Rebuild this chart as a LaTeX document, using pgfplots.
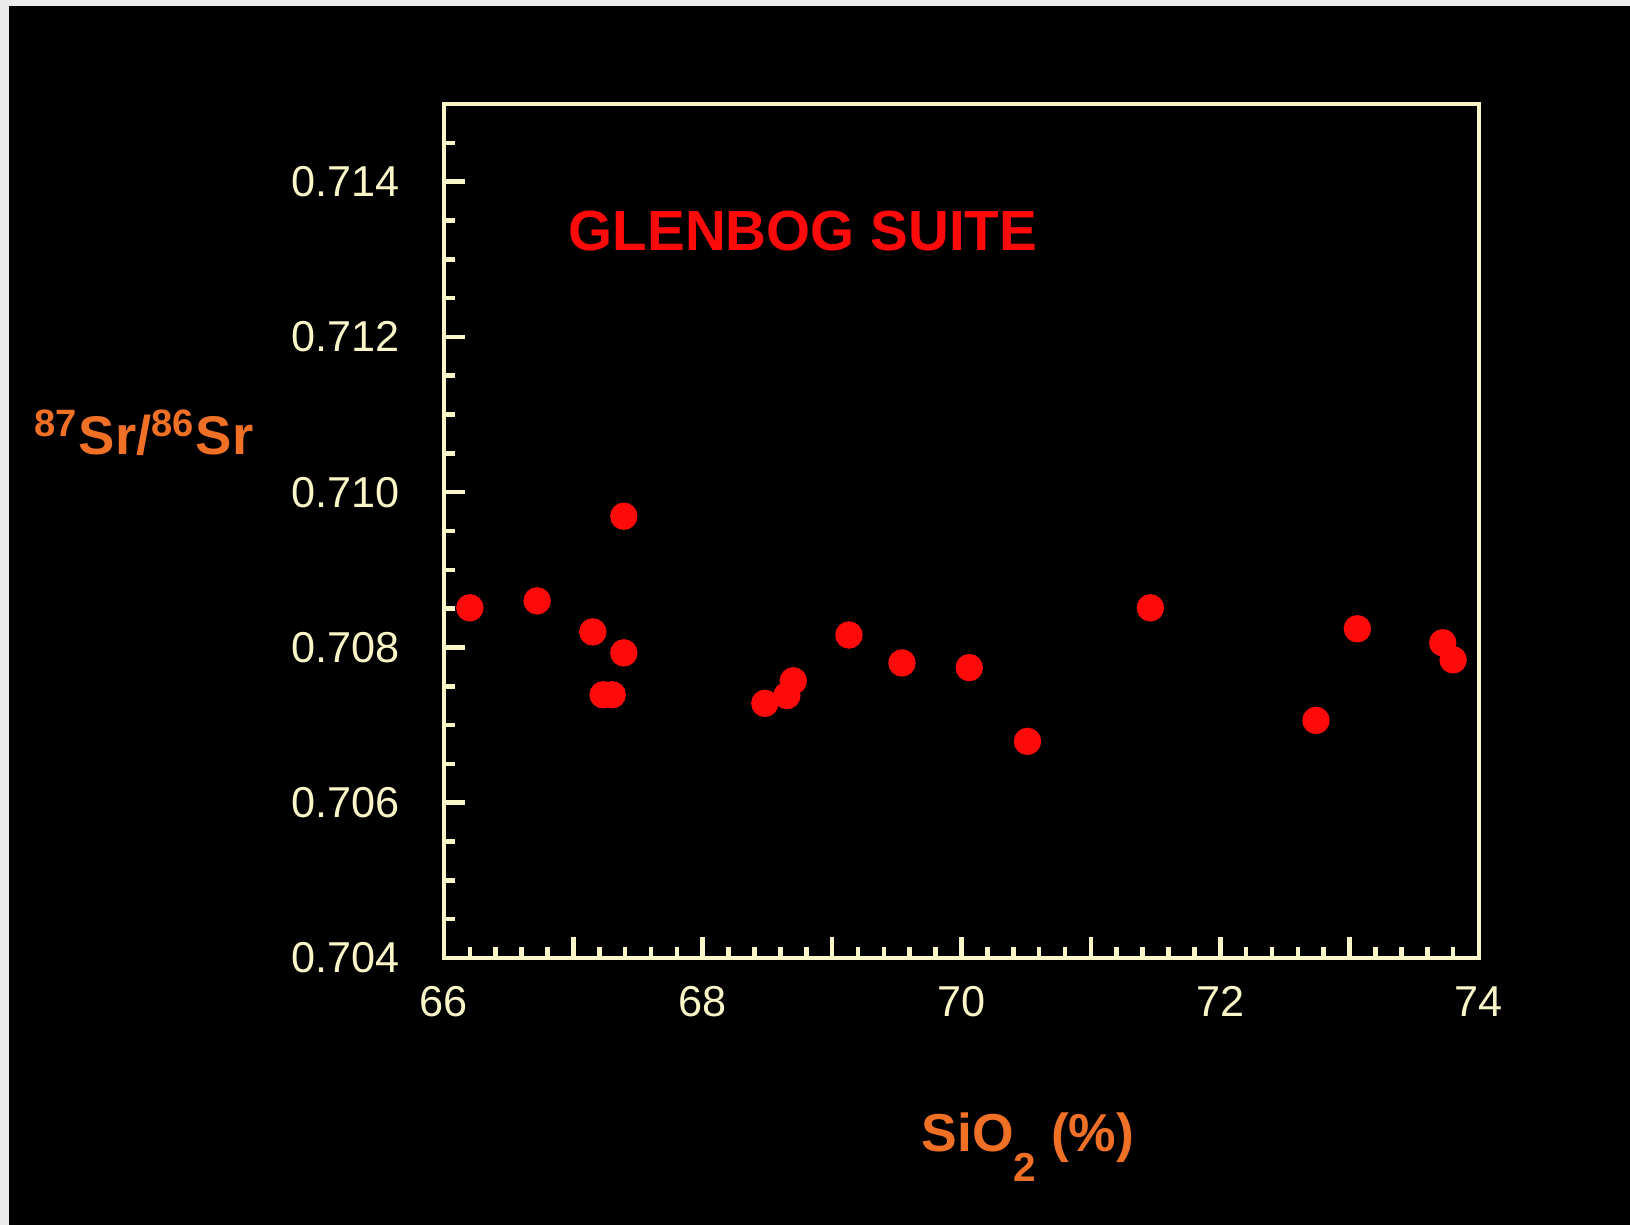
\documentclass[border=0pt]{standalone}
\usepackage{pgfplots}
\pgfplotsset{compat=1.18}
\usepackage{fontspec}
\setmainfont{Liberation Sans}
\definecolor{cream}{RGB}{250,246,200}
\definecolor{lbl}{RGB}{240,112,38}
\definecolor{dot}{RGB}{255,10,10}

\begin{document}
\begin{tikzpicture}[x=1cm,y=1cm]
\fill[white!92!black] (0,0) rectangle (16.3,12.25);
\fill[black] (0.09,0) rectangle (16.3,12.19);
\begin{axis}[
  at={(4.44cm,2.67cm)}, anchor=south west,
  scale only axis, width=10.35cm, height=8.54cm,
  xmin=66, xmax=74, ymin=0.704, ymax=0.715,
  axis line style={cream, line width=1.3pt},
  xtick={66,...,74}, xticklabels={66,,68,,70,,72,,74},
  minor x tick num=4,
  ytick={0.704,0.706,0.708,0.710,0.712,0.714,0.716},
  yticklabels={0.704,0.706,0.708,0.710,0.712,0.714,0.716},
  minor y tick num=3,
  tick align=inside, tick pos=left,
  major tick length=0.21cm, minor tick length=0.11cm,
  every tick/.style={cream, line width=1.3pt},
  ticklabel style={text=cream, font=\fontsize{12.3}{14}\selectfont},
  /pgf/number format/assume math mode=true,
  xticklabel style={yshift=-0.16cm},
  yticklabel style={xshift=-0.32cm},
  clip=false]
\addplot[only marks, mark=*, mark size=3.7pt, mark options={fill=dot, draw=dot}]
  coordinates {
  (66.20,0.70851) (66.72,0.70860) (67.39,0.70969) (67.15,0.70820)
  (67.39,0.70793) (67.23,0.70739) (67.30,0.70739) (68.48,0.70728)
  (68.65,0.70738) (68.70,0.70757) (69.13,0.70816) (69.54,0.70780)
  (70.06,0.70774) (70.51,0.70679) (71.46,0.70851) (72.74,0.70706)
  (73.06,0.70824) (73.72,0.70806) (73.80,0.70784)};
\end{axis}
\node[text=dot, font=\bfseries\fontsize{16.1}{20}\selectfont] at (8.03,9.94) {GLENBOG SUITE};
\node[text=lbl, font=\bfseries\fontsize{15.5}{18}\selectfont, anchor=base] at (1.44,7.70)
  {\textsuperscript{87}Sr/\textsuperscript{86}Sr};
\node[text=lbl, font=\bfseries\fontsize{15.2}{18}\selectfont, anchor=base] at (10.28,0.73)
  {SiO\raisebox{-0.30cm}{\fontsize{11.5}{12}\selectfont 2} (\%)};
\end{tikzpicture}
\end{document}
